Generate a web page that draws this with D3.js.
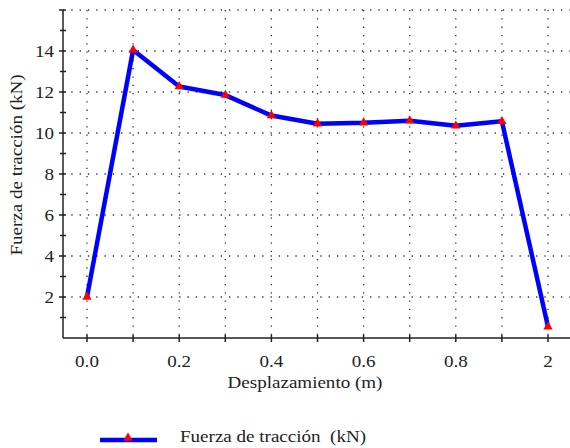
<!DOCTYPE html>
<html><head><meta charset="utf-8">
<script src="https://cdn.jsdelivr.net/npm/d3@7"></script>
<style>body{margin:0;background:#fff}svg{display:block}</style>
</head><body>
<script>
const categories = ["0.0","0.1","0.2","0.3","0.4","0.5","0.6","0.7","0.8","0.9","2"];
const fuerza = [2.0, 14.05, 12.27, 11.85, 10.85, 10.45, 10.5, 10.6, 10.35, 10.57, 0.55];
const xTickLabels = ["0.0","0.2","0.4","0.6","0.8","2"];
const yMajorTicks = [2,4,6,8,10,12,14,16];
const yTickLabels = [2,4,6,8,10,12,14];
const yMinorTicks = [1,3,5,7,9,11,13,15];
const seriesName = "Fuerza de tracción  (kN)";
const xTitle = "Desplazamiento (m)";
const yTitle = "Fuerza de tracción (kN)";

(function () {
const W = 570, H = 448;
const pLeft = 63, pRight = 570, pTop = 10, pBottom = 338;
const FONT = '"Liberation Serif"';
const SX = 1.19; // reference glyphs are wider than Liberation Serif
const svg = d3.select("body").append("svg").attr("width", W).attr("height", H);
const txt = sel => sel.style("font-family", FONT).style("fill", "#222").style("white-space", "pre").attr("font-size", 16);

const x = d3.scalePoint().domain(categories).range([87, 548]);
const y = d3.scaleLinear().domain([0, 16]).range([pBottom, pTop]);

// grid
const grid = svg.append("g").attr("stroke", "#333").attr("stroke-width", 1.3).attr("stroke-dasharray", "1.3,7");
grid.selectAll(".hg").data(yMajorTicks).join("line")
  .attr("x1", pLeft).attr("x2", pRight).attr("y1", d => y(d)).attr("y2", d => y(d));
grid.selectAll(".vg").data(categories).join("line")
  .attr("x1", d => x(d)).attr("x2", d => x(d)).attr("y1", pTop).attr("y2", pBottom);

// axes lines
svg.append("line").attr("x1", pLeft).attr("x2", pRight).attr("y1", pBottom).attr("y2", pBottom).attr("stroke", "#222").attr("stroke-width", 1.5);
svg.append("line").attr("x1", pLeft).attr("x2", pLeft).attr("y1", pTop).attr("y2", pBottom).attr("stroke", "#222").attr("stroke-width", 1.5);

// y ticks
svg.selectAll(".ytm").data(yMajorTicks).join("line")
  .attr("x1", pLeft - 4).attr("x2", pLeft + 3).attr("y1", d => y(d)).attr("y2", d => y(d))
  .attr("stroke", "#222").attr("stroke-width", 1.5);
svg.selectAll(".ytn").data(yMinorTicks).join("line")
  .attr("x1", pLeft - 3).attr("x2", pLeft + 3).attr("y1", d => y(d)).attr("y2", d => y(d))
  .attr("stroke", "#222").attr("stroke-width", 1.5);
svg.selectAll(".ytl").data(yTickLabels).join("text")
  .attr("transform", d => `translate(54,${y(d)}) scale(${SX},1)`).attr("dy", "0.35em").attr("text-anchor", "end")
  .text(d => d).call(txt);

// x ticks
svg.selectAll(".xt").data(categories).join("line")
  .attr("x1", d => x(d)).attr("x2", d => x(d)).attr("y1", pBottom - 3).attr("y2", pBottom + 4)
  .attr("stroke", "#222").attr("stroke-width", 1.5);
svg.selectAll(".xtl").data(xTickLabels).join("text")
  .attr("transform", d => `translate(${x(d)},367) scale(${SX},1)`).attr("text-anchor", "middle")
  .text(d => d).call(txt);

// titles
svg.append("text").attr("transform", `translate(305,388) scale(${SX},1)`).attr("text-anchor", "middle").text(xTitle).call(txt);
svg.append("text").attr("transform", `translate(22,165) rotate(-90) scale(${SX},1)`).attr("text-anchor", "middle").text(yTitle).call(txt);

// series
const pts = categories.map((c, i) => ({c, v: fuerza[i]}));
svg.append("path").datum(pts)
  .attr("d", d3.line().x(d => x(d.c)).y(d => y(d.v)))
  .attr("fill", "none").attr("stroke", "#0000ff").attr("stroke-width", 4.5).attr("stroke-linejoin", "round");
const tri = d3.symbol().type(d3.symbolTriangle).size(38);
svg.selectAll(".mk").data(pts).join("path")
  .attr("d", tri).attr("transform", d => `translate(${x(d.c)},${y(d.v)})`).attr("fill", "#ff0000");

// legend
svg.append("line").attr("x1", 100).attr("x2", 157).attr("y1", 440).attr("y2", 440).attr("stroke", "#0000ff").attr("stroke-width", 4.5);
svg.append("path").attr("d", tri).attr("transform", "translate(128,438)").attr("fill", "#ff0000");
svg.append("text").attr("transform", `translate(180,442) scale(${SX},1)`).text(seriesName).call(txt);
})();
</script>
</body></html>
